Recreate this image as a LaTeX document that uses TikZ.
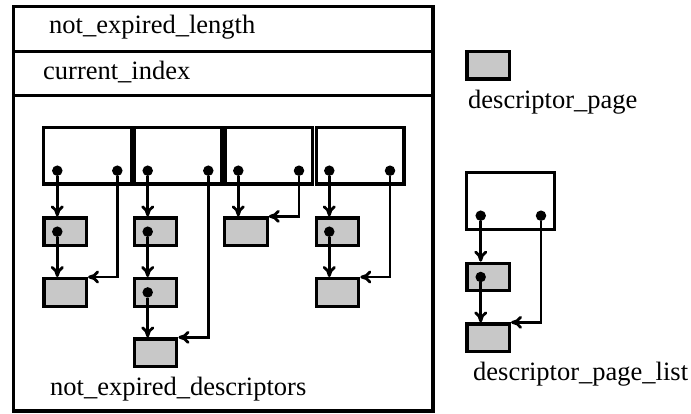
\documentclass[tikz,border=0pt]{standalone}
\usepackage{fontspec}
\setmainfont{Liberation Serif}
\usepackage{xcolor}
\usepackage{tikz}
\usetikzlibrary{arrows.meta}
\definecolor{pagegray}{RGB}{200,200,200}

\tikzset{
  frame/.style={line width=3.4pt},
  slotbox/.style={draw, line width=3.2pt, minimum width=87.5pt, minimum height=56.7pt, inner sep=0pt},
  pagebox/.style={draw, line width=3.2pt, fill=pagegray, minimum width=42.5pt, minimum height=27.5pt, inner sep=0pt},
  ptrdot/.style={circle, fill=black, minimum size=10.5pt, inner sep=0pt},
  ptrline/.style={line width=2.8pt, -{To[length=11pt,width=13pt]}},
  fieldtext/.style={anchor=base west, inner sep=0pt, font=\fontsize{26.5}{30}\selectfont},
}

\begin{document}
\begin{tikzpicture}[x=1pt,y=-1pt]
            \useasboundingbox (0,0) rectangle (691,414);
            % the struct with its three fields
            \draw[frame] (13.3,6.7) rectangle (433,411);
            \draw[frame] (13.3,51.3) -- (433,51.3);
            \draw[frame] (13.3,95.7) -- (433,95.7);
            \node[fieldtext] (lenf) at (49,33.3) {not\_expired\_length};
            \node[fieldtext] (idxf) at (43,80) {current\_index};
            \node[fieldtext] (descf) at (50,395) {not\_expired\_descriptors};

            % list heads
            \node[slotbox] (s1) at (87.4,155.7) {};
            \node[slotbox] (s2) at (177.7,155.7) {};
            \node[slotbox] (s3) at (268.7,155.7) {};
            \node[slotbox] (s4) at (360.2,155.7) {};
            \node[ptrdot] (s1l) at (57.3,170.7) {};
            \node[ptrdot] (s1r) at (117.3,170.7) {};
            \node[ptrdot] (s2l) at (147.7,170.7) {};
            \node[ptrdot] (s2r) at (208.3,170.7) {};
            \node[ptrdot] (s3l) at (238.3,170.7) {};
            \node[ptrdot] (s3r) at (299,170.7) {};
            \node[ptrdot] (s4l) at (329.3,170.7) {};
            \node[ptrdot] (s4r) at (390,170.7) {};

            % descriptor pages hanging off each head
            \node[pagebox] (p11) at (65.2,231.7) {};
            \node[pagebox] (p12) at (65.2,292.4) {};
            \node[pagebox] (p21) at (155.6,231.7) {};
            \node[pagebox] (p22) at (155.6,292.4) {};
            \node[pagebox] (p23) at (155.6,352.7) {};
            \node[pagebox] (p31) at (245.9,231.7) {};
            \node[pagebox] (p41) at (337.5,231.7) {};
            \node[pagebox] (p42) at (337.5,292.4) {};
            \node[ptrdot] (p11d) at (57.3,231.7) {};
            \node[ptrdot] (p21d) at (147.7,231.7) {};
            \node[ptrdot] (p22d) at (147.7,292.4) {};
            \node[ptrdot] (p41d) at (329.3,231.7) {};

            \draw[ptrline] (s1l) -- (s1l |- p11.north);
            \draw[ptrline] (p11d) -- (p11d |- p12.north);
            \draw[ptrline] (s1r) |- (p12.north east);
            \draw[ptrline] (s2l) -- (s2l |- p21.north);
            \draw[ptrline] (p21d) -- (p21d |- p22.north);
            \draw[ptrline] (p22d) -- (p22d |- p23.north);
            \draw[ptrline] (s2r) |- (p23.north east);
            \draw[ptrline] (s3l) -- (s3l |- p31.north);
            \draw[ptrline] (s3r) |- (p31.north east);
            \draw[ptrline] (s4l) -- (s4l |- p41.north);
            \draw[ptrline] (p41d) -- (p41d |- p42.north);
            \draw[ptrline] (s4r) |- (p42.north east);

            % legend: one page
            \node[pagebox] (legend) at (488.2,65.2) {};
            \node[fieldtext] (legendt) at (468,108.3) {descriptor\_page};

            % legend: a page list
            \node[slotbox, minimum width=88pt, minimum height=57pt] (lst) at (510.8,201.3) {};
            \node[ptrdot] (lstl) at (480.7,215.7) {};
            \node[ptrdot] (lstr) at (541,215.7) {};
            \node[pagebox] (lp1) at (488.2,277) {};
            \node[pagebox] (lp2) at (488.2,337.7) {};
            \node[ptrdot] (lp1d) at (480.7,277) {};
            \draw[ptrline] (lstl) -- (lstl |- lp1.north);
            \draw[ptrline] (lp1d) -- (lp1d |- lp2.north);
            \draw[ptrline] (lstr) |- (lp2.north east);
            \node[fieldtext] (lstt) at (473,380) {descriptor\_page\_list};
        \end{tikzpicture}
\end{document}
